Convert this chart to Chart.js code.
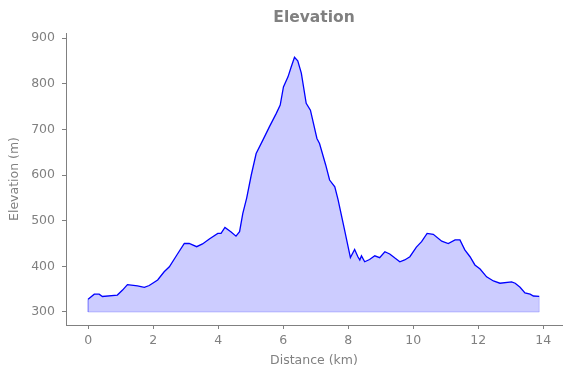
<!DOCTYPE html>
<html>
<head>
<meta charset="utf-8">
<script src="https://cdn.jsdelivr.net/npm/chart.js@4/dist/chart.umd.min.js"></script>
<style>
  html, body { margin: 0; padding: 0; background: #fff; }
</style>
</head>
<body>
<canvas id="myChart" width="571" height="378"></canvas>
<script>
const distance = [0, 0.19, 0.34, 0.44, 0.9, 1.06, 1.21, 1.52, 1.73, 1.88, 2.14, 2.34, 2.5, 2.75, 2.96, 3.11, 3.34, 3.52, 3.73, 3.99, 4.09, 4.21, 4.4, 4.55, 4.66, 4.76, 4.88, 5.02, 5.17, 5.38, 5.58, 5.79, 5.91, 6.01, 6.15, 6.25, 6.35, 6.45, 6.56, 6.71, 6.84, 7.04, 7.12, 7.31, 7.43, 7.59, 7.69, 7.89, 8.07, 8.2, 8.3, 8.36, 8.41, 8.51, 8.66, 8.82, 8.97, 9.13, 9.28, 9.44, 9.59, 9.74, 9.9, 10.1, 10.26, 10.43, 10.62, 10.88, 11.08, 11.29, 11.44, 11.59, 11.75, 11.9, 12.06, 12.26, 12.47, 12.67, 13.03, 13.14, 13.29, 13.44, 13.6, 13.7, 13.88];
const elevation = [328, 339, 339, 334, 337, 348, 360, 357, 354, 358, 370, 388, 399, 427, 450, 450, 443, 449, 460, 472, 472, 485, 475, 466, 476, 516, 550, 600, 647, 677, 706, 735, 753, 793, 815, 837, 858, 850, 823, 757, 742, 680, 669, 622, 589, 574, 546, 480, 419, 437, 421, 414, 423, 410, 415, 423, 419, 432, 427, 418, 410, 414, 421, 442, 454, 472, 470, 455, 450, 458, 458, 436, 421, 403, 394, 377, 368, 363, 366, 363, 354, 342, 339, 335, 334];
const baseElevation = 300;
const xTicks = [0, 2, 4, 6, 8, 10, 12, 14];
const yTicks = [300, 400, 500, 600, 700, 800, 900];

const grey = "#808080";
const points = distance.map((d, i) => ({ x: d, y: elevation[i] }));
const last = distance.length - 1;
// faint outline of the filled polygon (bottom + right edge)
const edge = [
  { x: distance[0], y: elevation[0] },
  { x: distance[0], y: baseElevation },
  { x: distance[last], y: baseElevation },
  { x: distance[last], y: elevation[last] },
];

const titlePlugin = {
  id: "centerTitle",
  afterDraw(chart) {
    const { ctx, chartArea } = chart;
    ctx.save();
    ctx.font = "bold 15.5px 'DejaVu Sans'";
    ctx.fillStyle = grey;
    ctx.textAlign = "center";
    ctx.textBaseline = "middle";
    ctx.fillText("Elevation", (chartArea.left + chartArea.right) / 2, 18);
    ctx.restore();
  },
};

const config = {
  type: "line",
  data: {
    datasets: [
      {
        data: edge,
        borderColor: "rgba(0,0,255,0.2)",
        borderWidth: 1,
        pointRadius: 0,
        fill: false,
      },
      {
        label: "Elevation",
        data: points,
        borderColor: "#0000ff",
        backgroundColor: "rgba(0,0,255,0.2)",
        borderWidth: 1.3,
        pointRadius: 0,
        tension: 0,
        fill: { value: baseElevation },
      },
    ],
  },
  options: {
    responsive: false,
    animation: false,
    layout: { padding: { top: 33, right: 9, left: 0, bottom: 0 } },
    plugins: {
      legend: { display: false },
      tooltip: { enabled: false },
    },
    scales: {
      x: {
        type: "linear",
        min: -0.68,
        max: 14.58,
        afterBuildTicks: (s) => { s.ticks = xTicks.map((v) => ({ value: v })); },
        afterFit: (s) => { s.height = 53; },
        grid: { drawOnChartArea: false, tickLength: 4, tickColor: grey },
        border: { color: grey, width: 1 },
        ticks: { color: grey, font: { family: "DejaVu Sans", size: 12.5 }, padding: 4, maxRotation: 0 },
        title: { display: true, text: "Distance (km)", color: grey, font: { family: "DejaVu Sans", size: 12.5 }, padding: { top: 0, bottom: 9.5 } },
      },
      y: {
        min: 271.5,
        max: 911,
        afterBuildTicks: (s) => { s.ticks = yTicks.map((v) => ({ value: v })); },
        afterFit: (s) => { s.width = 66; },
        grid: { drawOnChartArea: false, tickLength: 4, tickColor: grey },
        border: { color: grey, width: 1 },
        ticks: { color: grey, font: { family: "DejaVu Sans", size: 12.5 }, padding: 7 },
        title: { display: true, text: "Elevation (m)", color: grey, font: { family: "DejaVu Sans", size: 12.5 }, padding: { top: 7, bottom: 2 } },
      },
    },
  },
  plugins: [titlePlugin],
};

const myChart = new Chart(document.getElementById("myChart"), config);
</script>
</body>
</html>
